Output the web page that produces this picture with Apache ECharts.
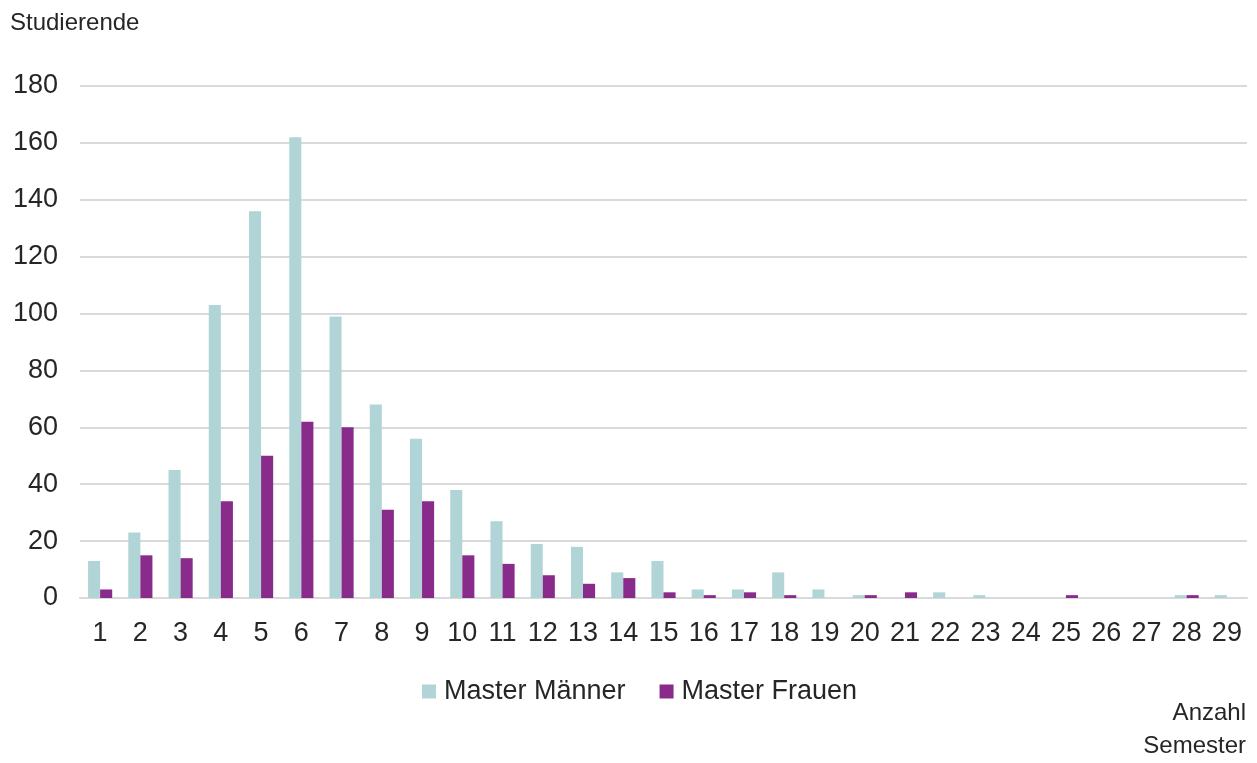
<!DOCTYPE html>
<html>
<head>
<meta charset="utf-8">
<script src="https://cdn.jsdelivr.net/npm/echarts@6/dist/echarts.min.js"></script>
<style>
html,body{margin:0;padding:0;background:#fff;}
#chart{width:1257px;height:763px;}
</style>
</head>
<body>
<div id="chart"></div>
<script>
const categories = ['1','2','3','4','5','6','7','8','9','10','11','12','13','14','15','16','17','18','19','20','21','22','23','24','25','26','27','28','29'];
const seriesNames = ['Master Männer', 'Master Frauen'];
const masterMaenner = [13,23,45,103,136,162,99,68,56,38,27,19,18,9,13,3,3,9,3,1,0,2,1,0,0,0,0,1,1];
const masterFrauen  = [3,15,14,34,50,62,60,31,34,15,12,8,5,7,2,1,2,1,0,1,2,0,0,0,1,0,0,1,0];
const yAxisTitle = 'Studierende';
const xAxisTitleLines = ['Anzahl', 'Semester'];

const FONT = '"Liberation Sans", Arial, sans-serif';
const TEXT = '#262626';
const chart = echarts.init(document.getElementById('chart'));
chart.setOption({
  animation: false,
  backgroundColor: '#ffffff',
  textStyle: { fontFamily: FONT, color: TEXT },
  grid: { left: 80, right: 10, top: 86, bottom: 165, containLabel: false },
  legend: {
    data: seriesNames,
    left: 422,
    top: 678,
    padding: 0,
    itemWidth: 14,
    itemHeight: 14,
    itemGap: 34,
    icon: 'rect',
    textStyle: { fontFamily: FONT, fontSize: 27, color: TEXT, padding: [0, 0, 0, 3] }
  },
  xAxis: {
    type: 'category',
    data: categories,
    axisLine: { show: true, lineStyle: { color: '#d9d9d9', width: 2 } },
    axisTick: { show: false },
    axisLabel: { fontFamily: FONT, fontSize: 27, color: TEXT, margin: 22, interval: 0 }
  },
  yAxis: {
    type: 'value',
    min: 0,
    max: 180,
    interval: 20,
    axisLine: { show: false },
    axisTick: { show: false },
    splitLine: { lineStyle: { color: '#d9d9d9', width: 2 } },
    axisLabel: { fontFamily: FONT, fontSize: 27, color: TEXT, margin: 22, padding: [4, 0, 0, 0] }
  },
  series: [
    {
      name: seriesNames[0],
      type: 'bar',
      data: masterMaenner,
      barGap: '0%',
      barCategoryGap: '40%',
      itemStyle: { color: '#b1d5d6' }
    },
    {
      name: seriesNames[1],
      type: 'bar',
      data: masterFrauen,
      barGap: '0%',
      barCategoryGap: '40%',
      itemStyle: { color: '#882b8a' }
    }
  ],
  graphic: [
    { type: 'text', left: 10, top: 11, style: { text: yAxisTitle, font: '24px ' + FONT, fill: TEXT } },
    { type: 'text', right: 11, top: 701, style: { text: xAxisTitleLines[0], font: '24px ' + FONT, fill: TEXT } },
    { type: 'text', right: 11, top: 734, style: { text: xAxisTitleLines[1], font: '24px ' + FONT, fill: TEXT } }
  ]
});
</script>
</body>
</html>
